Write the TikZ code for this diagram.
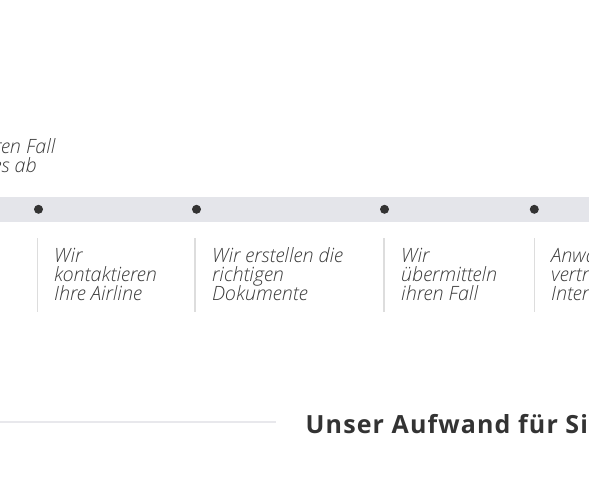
\documentclass[tikz,border=0pt]{standalone}
\usepackage{fontspec}
\setmainfont{Open Sans}[ItalicFont={Open Sans Light Italic}]
\begin{document}
\begin{tikzpicture}[x=1pt,y=-1pt,
  steptext/.style={anchor=base west,inner sep=0pt,text=textgray,font=\fontsize{19.7}{20}\selectfont\itshape},
  sepline/.style={draw=sepgray,line width=1.5pt},
  stepdot/.style={circle,fill=dotgray,minimum size=9pt,inner sep=0pt}]
\definecolor{textgray}{HTML}{3A3A3A}
\definecolor{sepgray}{HTML}{DDDDDD}
\definecolor{dotgray}{HTML}{333333}
\definecolor{bandgray}{HTML}{E4E5EA}
\definecolor{linegray}{HTML}{E8E8EC}
\useasboundingbox (0,0) rectangle (589,482);
\clip (0,0) rectangle (589,482);
% top partial text
\node[steptext] (t1) at (-6,153) {ren Fall};
\node[steptext] (t2) at (-7.5,172) {es ab};
% band
\fill[bandgray] (0,197) rectangle (589,222);
\node[stepdot] (d1) at (38.5,209.3) {};
\node[stepdot] (d2) at (196.5,209.3) {};
\node[stepdot] (d3) at (384.5,209.3) {};
\node[stepdot] (d4) at (534.3,209.3) {};
% separators
\coordinate (s1a) at (37.3,238); \coordinate (s1b) at (37.3,312);
\coordinate (s2a) at (194.8,238); \coordinate (s2b) at (194.8,312);
\coordinate (s3a) at (384.2,238); \coordinate (s3b) at (384.2,312);
\coordinate (s4a) at (534.3,238); \coordinate (s4b) at (534.3,312);
\draw[sepline] (s1a) -- (s1b);
\draw[sepline] (s2a) -- (s2b);
\draw[sepline] (s3a) -- (s3b);
\draw[sepline] (s4a) -- (s4b);
% column texts
\node[steptext] (c1a) at (54,262.3) {Wir};
\node[steptext] (c1b) at (54,281.7) {kontaktieren};
\node[steptext] (c1c) at (54,300.9) {Ihre Airline};
\node[steptext] (c2a) at (212,262.3) {Wir erstellen die};
\node[steptext] (c2b) at (212,281.7) {richtigen};
\node[steptext] (c2c) at (212,300.9) {Dokumente};
\node[steptext] (c3a) at (401,262.3) {Wir};
\node[steptext] (c3b) at (401,281.7) {übermitteln};
\node[steptext] (c3c) at (401,300.9) {ihren Fall};
\node[steptext] (c4a) at (551,262.3) {Anwalt};
\node[steptext] (c4b) at (551,281.7) {vertritt};
\node[steptext] (c4c) at (551,300.9) {Interessen};
% bottom line and heading
\coordinate (la) at (0,422); \coordinate (lb) at (276,422);
\draw[linegray,line width=2pt] (la) -- (lb);
\node[anchor=base west,inner sep=0pt,text=dotgray,font=\fontsize{25}{25}\selectfont\bfseries\addfontfeature{LetterSpace=4.5}] (h) at (305.5,433.3) {Unser Aufwand für Sie};
\end{tikzpicture}
\end{document}
